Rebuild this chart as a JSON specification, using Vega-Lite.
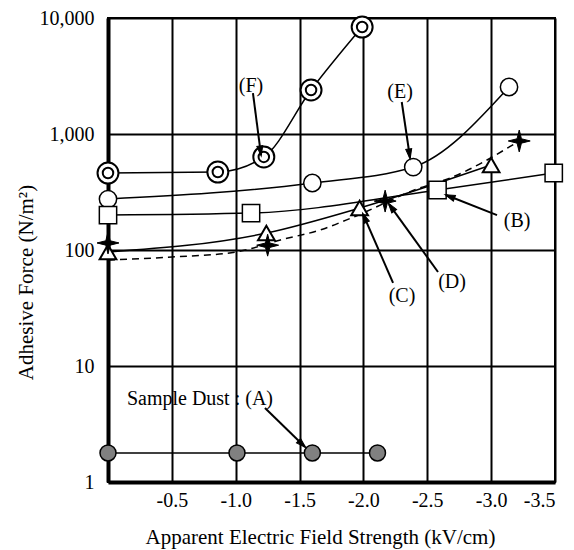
{
  "$schema": "https://vega.github.io/schema/vega-lite/v6.json",
  "width": 447,
  "height": 464,
  "autosize": {"type": "none"},
  "padding": {"left": 108, "top": 18, "right": 19, "bottom": 68},
  "background": "white",
  "config": {
    "view": {"stroke": "black", "strokeWidth": 2},
    "axis": {
      "gridColor": "black", "gridWidth": 2, "gridOpacity": 1,
      "domainColor": "black", "ticks": false,
      "labelFont": "Liberation Serif", "titleFont": "Liberation Serif",
      "labelColor": "black", "titleColor": "black",
      "labelFontSize": 20, "titleFontSize": 21, "titleFontWeight": "normal"
    },
    "text": {"font": "Liberation Serif", "fontSize": 20, "color": "black"}
  },
  "datasets": {
    "pts": [
      {"series": "A", "x": 0, "y": 1.78}, {"series": "A", "x": -1.01, "y": 1.78}, {"series": "A", "x": -1.6, "y": 1.78}, {"series": "A", "x": -2.11, "y": 1.78},
      {"series": "B", "x": 0, "y": 200}, {"series": "B", "x": -1.12, "y": 208}, {"series": "B", "x": -2.58, "y": 329}, {"series": "B", "x": -3.49, "y": 461},
      {"series": "C", "x": 0, "y": 96}, {"series": "C", "x": -1.24, "y": 140}, {"series": "C", "x": -1.97, "y": 230}, {"series": "C", "x": -3.0, "y": 540},
      {"series": "D", "x": 0, "y": 115}, {"series": "D", "x": -1.25, "y": 110}, {"series": "D", "x": -2.17, "y": 264}, {"series": "D", "x": -3.22, "y": 871},
      {"series": "E", "x": 0, "y": 275}, {"series": "E", "x": -1.6, "y": 378}, {"series": "E", "x": -2.39, "y": 519}, {"series": "E", "x": -3.14, "y": 2541},
      {"series": "F", "x": 0, "y": 461}, {"series": "F", "x": -0.86, "y": 470}, {"series": "F", "x": -1.22, "y": 634}, {"series": "F", "x": -1.59, "y": 2395}, {"series": "F", "x": -1.99, "y": 8360}
    ],
    "dfit": [
      {"x": 0, "y": 82}, {"x": -0.5, "y": 87}, {"x": -1.0, "y": 96}, {"x": -1.35, "y": 122}, {"x": -1.68, "y": 151},
      {"x": -1.92, "y": 192}, {"x": -2.44, "y": 342}, {"x": -2.66, "y": 410}, {"x": -3.22, "y": 871}
    ],
    "labels": [
      {"x": -1.12, "y": 2594, "label": "(F)"},
      {"x": -2.287, "y": 2301, "label": "(E)"},
      {"x": -3.203, "y": 178, "label": "(B)"},
      {"x": -2.302, "y": 40.1, "label": "(C)"},
      {"x": -2.694, "y": 53, "label": "(D)"},
      {"x": -0.72, "y": 5.19, "label": "Sample Dust : (A)"}
    ],
    "arrows": [
      {"x": -1.135, "y": 2256, "x2": -1.198, "y2": 659},
      {"x": -2.30, "y": 1888, "x2": -2.365, "y2": 621},
      {"x": -3.046, "y": 200, "x2": -2.647, "y2": 298},
      {"x": -2.232, "y": 52, "x2": -1.997, "y2": 204},
      {"x": -2.584, "y": 64.6, "x2": -2.20, "y2": 249},
      {"x": -1.229, "y": 4.34, "x2": -1.543, "y2": 2.0}
    ],
    "heads": [
      {"x": -1.194, "y": 714, "angle": 172},
      {"x": -2.36, "y": 672, "angle": 172},
      {"x": -2.676, "y": 289, "angle": 291},
      {"x": -2.009, "y": 190, "angle": 336},
      {"x": -2.218, "y": 234, "angle": 324},
      {"x": -1.52, "y": 2.12, "angle": 134}
    ]
  },
  "encoding": {
    "x": {
      "field": "x", "type": "quantitative",
      "scale": {"domain": [-3.5, 0], "reverse": true, "nice": false, "zero": false},
      "axis": {
        "title": "Apparent Electric Field Strength (kV/cm)",
        "values": [0, -0.5, -1, -1.5, -2, -2.5, -3, -3.5],
        "labelExpr": "datum.value == 0 ? '' : '-' + format(abs(datum.value), '.1f')",
        "grid": true, "domainWidth": 4, "labelPadding": 8, "labelDx": -8,
        "titleX": 212, "titleY": 55, "titleBaseline": "middle"
      }
    },
    "y": {
      "field": "y", "type": "quantitative",
      "scale": {"type": "log", "domain": [1, 10000], "nice": false},
      "axis": {
        "title": "Adhesive Force (N/m²)",
        "values": [1, 10, 100, 1000, 10000],
        "format": ",.0f",
        "grid": true, "domainWidth": 4, "labelPadding": 14,
        "titleX": -82, "titleY": 264, "titleBaseline": "middle"
      }
    }
  },
  "layer": [
    {
      "data": {"name": "pts"},
      "transform": [{"filter": "datum.series != 'D'"}],
      "mark": {"type": "line", "color": "black", "strokeWidth": 1.5, "interpolate": "monotone"},
      "encoding": {"detail": {"field": "series"}, "order": {"field": "x", "sort": "descending"}}
    },
    {
      "data": {"name": "dfit"},
      "mark": {"type": "line", "color": "black", "strokeWidth": 1.5, "strokeDash": [7, 5], "interpolate": "monotone"},
      "encoding": {"order": {"field": "x", "sort": "descending"}}
    },
    {
      "data": {"name": "pts"},
      "transform": [{"filter": "datum.series == 'A'"}],
      "mark": {"type": "point", "shape": "circle", "filled": true, "fill": "#808080", "stroke": "black", "strokeWidth": 1.5, "size": 256, "opacity": 1}
    },
    {
      "data": {"name": "pts"},
      "transform": [{"filter": "datum.series == 'E'"}],
      "mark": {"type": "point", "shape": "circle", "filled": true, "fill": "white", "stroke": "black", "strokeWidth": 1.5, "size": 300, "opacity": 1}
    },
    {
      "data": {"name": "pts"},
      "transform": [{"filter": "datum.series == 'B'"}],
      "mark": {"type": "point", "shape": "square", "filled": true, "fill": "white", "stroke": "black", "strokeWidth": 1.5, "size": 300, "opacity": 1}
    },
    {
      "data": {"name": "pts"},
      "transform": [{"filter": "datum.series == 'C'"}],
      "mark": {"type": "point", "shape": "triangle-up", "filled": true, "fill": "white", "stroke": "black", "strokeWidth": 2, "size": 280, "opacity": 1}
    },
    {
      "data": {"name": "pts"},
      "transform": [{"filter": "datum.series == 'D'"}],
      "mark": {"type": "point", "shape": "M0,-1L0.2,-0.2L1,0L0.2,0.2L0,1L-0.2,0.2L-1,0L-0.2,-0.2Z", "filled": true, "fill": "black", "stroke": "black", "strokeWidth": 1, "size": 480, "opacity": 1}
    },
    {
      "data": {"name": "pts"},
      "transform": [{"filter": "datum.series == 'F'"}],
      "mark": {"type": "point", "shape": "circle", "filled": true, "fill": "white", "stroke": "black", "strokeWidth": 2, "size": 440, "opacity": 1}
    },
    {
      "data": {"name": "pts"},
      "transform": [{"filter": "datum.series == 'F'"}],
      "mark": {"type": "point", "shape": "circle", "filled": false, "stroke": "black", "strokeWidth": 2, "size": 110, "opacity": 1}
    },
    {
      "data": {"name": "labels"},
      "mark": {"type": "text", "align": "center", "baseline": "middle", "fill": "white", "stroke": "white", "strokeWidth": 8}
    },
    {
      "data": {"name": "labels"},
      "mark": {"type": "text", "align": "center", "baseline": "middle", "color": "black"},
      "encoding": {"text": {"field": "label"}}
    },
    {
      "data": {"name": "arrows"},
      "mark": {"type": "rule", "color": "black", "strokeWidth": 2},
      "encoding": {"x2": {"field": "x2"}, "y2": {"field": "y2"}}
    },
    {
      "data": {"name": "heads"},
      "mark": {"type": "point", "shape": "M0,-1L0.6,1L-0.6,1Z", "filled": true, "fill": "black", "stroke": "black", "strokeWidth": 1, "size": 100, "opacity": 1},
      "encoding": {"angle": {"field": "angle", "type": "quantitative", "scale": null}}
    }
  ]
}
